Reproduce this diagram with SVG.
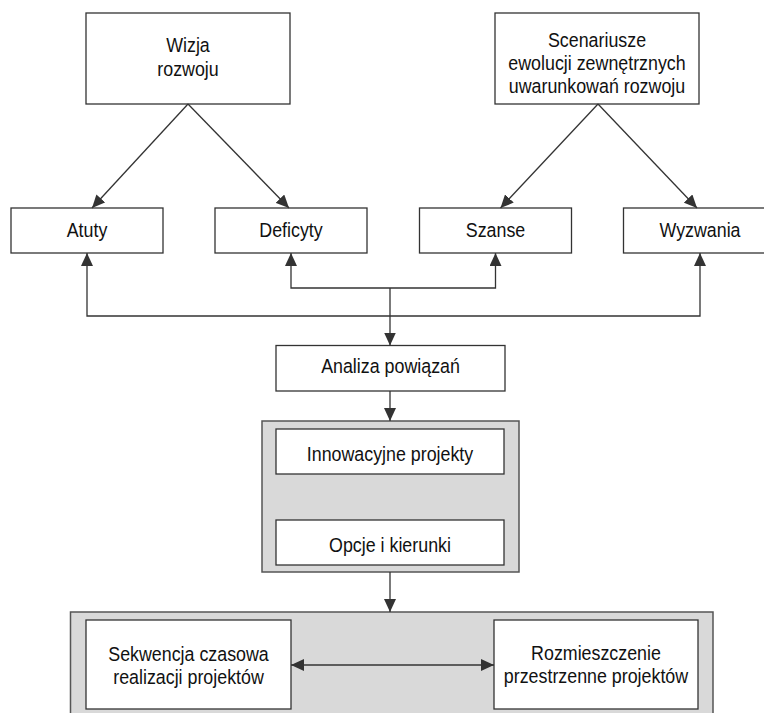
<svg xmlns="http://www.w3.org/2000/svg" width="764" height="713" viewBox="0 0 764 713">
<style>
.box{fill:#ffffff;stroke:#333333;stroke-width:1.3}
.cont{fill:#d9d9d9;stroke:#555555;stroke-width:1.5}
.ln{fill:none;stroke:#333333;stroke-width:1.3}
.t{font-family:"Liberation Sans",Arial,sans-serif;font-size:20.5px;fill:#111111;text-anchor:middle}
</style>
<defs>
<marker id="ah" markerUnits="userSpaceOnUse" markerWidth="14" markerHeight="12" refX="13" refY="6" orient="auto">
<path d="M0,0 L13,6 L0,12 z" fill="#333333"/>
</marker>
<marker id="as" markerUnits="userSpaceOnUse" markerWidth="14" markerHeight="12" refX="0" refY="6" orient="auto">
<path d="M13,0 L0,6 L13,12 z" fill="#333333"/>
</marker>
</defs>
<rect width="764" height="713" fill="#ffffff"/>

<g id="wizja">
<rect class="box" x="86" y="13" width="204" height="91"/>
<text class="t" transform="matrix(0.87,0,0,1,188,0)" x="0" y="52.5">Wizja</text>
<text class="t" transform="matrix(0.87,0,0,1,188,0)" x="0" y="76.5">rozwoju</text>
</g>

<g id="scenariusze">
<rect class="box" x="495" y="13" width="204" height="91"/>
<text class="t" transform="matrix(0.87,0,0,1,597,0)" x="0" y="46.7">Scenariusze</text>
<text class="t" transform="matrix(0.87,0,0,1,597,0)" x="0" y="70">ewolucji zewnętrznych</text>
<text class="t" transform="matrix(0.87,0,0,1,597,0)" x="0" y="93.3">uwarunkowań rozwoju</text>
</g>

<g id="atuty">
<rect class="box" x="11" y="208" width="152" height="45"/>
<text class="t" transform="matrix(0.87,0,0,1,87,0)" x="0" y="236.7">Atuty</text>
</g>

<g id="deficyty">
<rect class="box" x="215" y="208" width="152" height="45"/>
<text class="t" transform="matrix(0.87,0,0,1,291,0)" x="0" y="236.7">Deficyty</text>
</g>

<g id="szanse">
<rect class="box" x="419.5" y="208" width="152" height="45"/>
<text class="t" transform="matrix(0.87,0,0,1,495.5,0)" x="0" y="236.7">Szanse</text>
</g>

<g id="wyzwania">
<rect class="box" x="623.5" y="208" width="152" height="45"/>
<text class="t" transform="matrix(0.87,0,0,1,700,0)" x="0" y="236.7">Wyzwania</text>
</g>

<g id="analiza">
<rect class="box" x="276" y="345.5" width="229" height="45.5"/>
<text class="t" transform="matrix(0.87,0,0,1,390.5,0)" x="0" y="373.3">Analiza powiązań</text>
</g>

<g id="projekty-opcje">
<rect class="cont" x="262" y="421" width="257" height="151"/>
<g id="innowacyjne">
<rect class="box" x="276" y="429" width="228" height="45"/>
<text class="t" transform="matrix(0.87,0,0,1,390,0)" x="0" y="461.5">Innowacyjne projekty</text>
</g>
<g id="opcje">
<rect class="box" x="276" y="520" width="228" height="45"/>
<text class="t" transform="matrix(0.87,0,0,1,390,0)" x="0" y="551.7">Opcje i kierunki</text>
</g>
</g>

<g id="realizacja">
<rect class="cont" x="70.5" y="612" width="642.5" height="120"/>
<g id="sekwencja">
<rect class="box" x="86" y="620" width="205" height="89"/>
<text class="t" transform="matrix(0.87,0,0,1,188.5,0)" x="0" y="660.7">Sekwencja czasowa</text>
<text class="t" transform="matrix(0.87,0,0,1,188.5,0)" x="0" y="684">realizacji projektów</text>
</g>
<g id="rozmieszczenie">
<rect class="box" x="494" y="620" width="204" height="89"/>
<text class="t" transform="matrix(0.87,0,0,1,596,0)" x="0" y="660.5">Rozmieszczenie</text>
<text class="t" transform="matrix(0.87,0,0,1,596,0)" x="0" y="683.5">przestrzenne projektów</text>
</g>
</g>

<g id="connectors">
<line class="ln" x1="188" y1="104" x2="92" y2="208" marker-end="url(#ah)"/>
<line class="ln" x1="188" y1="104" x2="289" y2="208" marker-end="url(#ah)"/>
<line class="ln" x1="598" y1="104" x2="500.5" y2="208" marker-end="url(#ah)"/>
<line class="ln" x1="598" y1="104" x2="697" y2="208" marker-end="url(#ah)"/>
<polyline class="ln" points="87,253 87,316 700,316 700,253" marker-start="url(#as)" marker-end="url(#ah)"/>
<polyline class="ln" points="291,253 291,288 495.5,288 495.5,253" marker-start="url(#as)" marker-end="url(#ah)"/>
<line class="ln" x1="390" y1="288" x2="390" y2="345.5" marker-end="url(#ah)"/>
<line class="ln" x1="390" y1="391" x2="390" y2="421" marker-end="url(#ah)"/>
<line class="ln" x1="390" y1="572" x2="390" y2="612" marker-end="url(#ah)"/>
<line class="ln" x1="291" y1="665" x2="494" y2="665" marker-start="url(#as)" marker-end="url(#ah)"/>
</g>
</svg>
